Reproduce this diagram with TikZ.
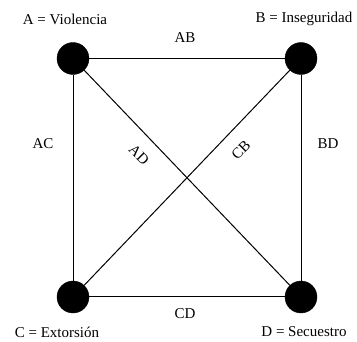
\documentclass[tikz,border=0pt]{standalone}
\usepackage{fontspec}
\setmainfont{Liberation Serif}
\begin{document}
\begin{tikzpicture}[x=1pt,y=-1pt,
  vertex/.style={circle,fill=black,draw=black,minimum size=32pt,inner sep=0pt},
  edge/.style={line width=1pt,black},
  lbl/.style={font=\fontsize{15}{17}\selectfont,inner sep=0pt}]
\useasboundingbox (0,0) rectangle (357,342);
\node[vertex] (A) at (73,58.5) {};
\node[vertex] (B) at (301,58.5) {};
\node[vertex] (C) at (73,297) {};
\node[vertex] (D) at (301,297) {};
\draw[edge] (A) -- (B);
\draw[edge] (C) -- (D);
\draw[edge] (A) -- (C);
\draw[edge] (B) -- (D);
\draw[edge] (A) -- (D);
\draw[edge] (C) -- (B);
\node[lbl] (tA) at (65,19) {A = Violencia};
\node[lbl] (tB) at (304,19) {B = Inseguridad};
\node[lbl] (tC) at (57,332) {C = Extorsión};
\node[lbl] (tD) at (304,332) {D = Secuestro};
\node[lbl] (lAB) at (185,38) {AB};
\node[lbl] (lCD) at (185,314) {CD};
\node[lbl] (lAC) at (43,144) {AC};
\node[lbl] (lBD) at (328,144) {BD};
\node[lbl,rotate=-45] (lAD) at (139,155) {AD};
\node[lbl,rotate=45] (lCB) at (241,150) {CB};
\end{tikzpicture}
\end{document}
